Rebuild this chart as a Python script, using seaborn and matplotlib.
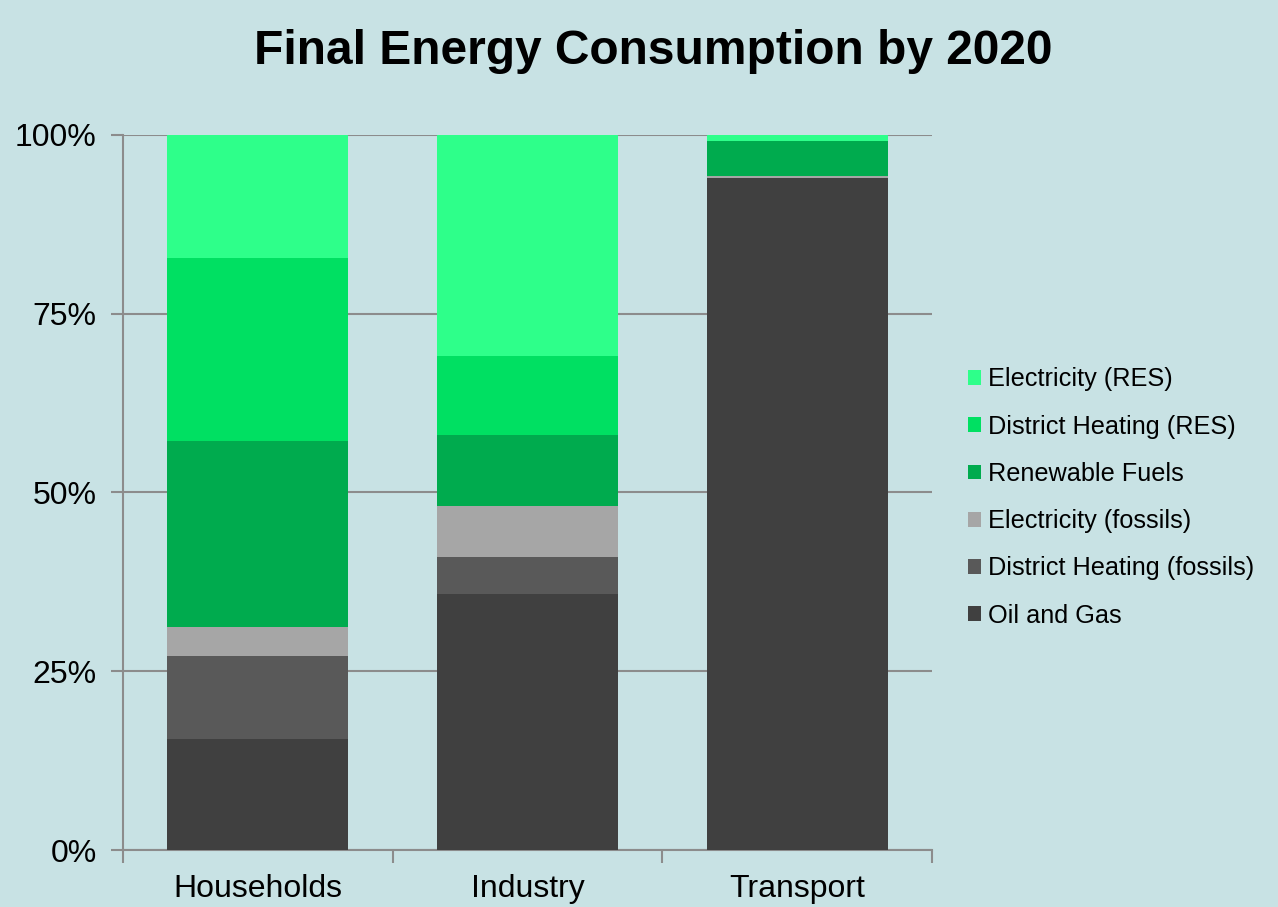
import numpy as np
import pandas as pd
import matplotlib
matplotlib.use('Agg')
import matplotlib.pyplot as plt
from matplotlib.patches import Patch
from matplotlib.ticker import PercentFormatter
import seaborn as sns

sectors = ['Households', 'Industry', 'Transport']
oil_gas = [15.5, 35.8, 94.0]
dh_fossils = [11.6, 5.2, 0.0]
el_fossils = [4.1, 7.1, 0.2]
renewable_fuels = [26.0, 9.9, 5.0]
dh_res = [25.6, 11.1, 0.0]
el_res = [17.2, 30.9, 0.8]

series = ['Oil and Gas', 'District Heating (fossils)', 'Electricity (fossils)',
          'Renewable Fuels', 'District Heating (RES)', 'Electricity (RES)']
colors = ['#404040', '#595959', '#a6a6a6', '#00ab4e', '#00e062', '#2eff8a']

df = pd.DataFrame({'sector': sectors, series[0]: oil_gas, series[1]: dh_fossils,
                   series[2]: el_fossils, series[3]: renewable_fuels,
                   series[4]: dh_res, series[5]: el_res})

bg = '#c8e2e4'
sns.set_style('white')
plt.rcParams['font.family'] = ['Liberation Sans', 'DejaVu Sans']
plt.rcParams['text.color'] = 'black'
plt.rcParams['xtick.color'] = 'black'
plt.rcParams['ytick.color'] = 'black'

fig = plt.figure(figsize=(12.78, 9.07), dpi=100, facecolor=bg)
ax = fig.add_axes([123 / 1278, 57 / 907, 809 / 1278, 715 / 907])
ax.set_facecolor(bg)

bottom = np.zeros(len(sectors))
for name, col in zip(series, colors):
    sns.barplot(data=df, x='sector', y=name, color=col, width=0.67, saturation=1,
                bottom=bottom, ax=ax, linewidth=0, zorder=3)
    bottom = bottom + df[name].values

ax.set_ylim(0, 100)
ax.set_xlim(-0.5, 2.5)
ax.set_yticks([0, 25, 50, 75, 100])
ax.yaxis.set_major_formatter(PercentFormatter(decimals=0))
ax.set_xlabel('')
ax.set_ylabel('')
ax.grid(axis='y', color='#8c8c8c', linewidth=1.5, zorder=0)
for s in ['top', 'right']:
    ax.spines[s].set_visible(False)
for s in ['left', 'bottom']:
    ax.spines[s].set_color('#8c8c8c')
    ax.spines[s].set_linewidth(1.5)
ax.tick_params(axis='y', left=True, length=9, width=1.5, color='#8c8c8c',
               labelcolor='black', labelsize=23, pad=10)
ax.set_xticks([0, 1, 2], sectors)
ax.tick_params(axis='x', bottom=True, length=0, labelsize=23, pad=17, labelcolor='black')
ax.set_xticks([-0.5, 0.5, 1.5, 2.5], minor=True)
ax.tick_params(axis='x', which='minor', bottom=True, length=9, width=1.5, color='#8c8c8c')

handles = [Patch(facecolor=c, edgecolor='none', label=n) for n, c in zip(series, colors)][::-1]
fig.legend(handles=handles, loc='center left', bbox_to_anchor=(948 / 1278, 1 - 497.5 / 907),
           frameon=False, fontsize=18.2, handlelength=0.52, handleheight=0.52,
           handletextpad=0.28, labelspacing=0.92, borderpad=0.3)

fig.text(653 / 1278, 1 - 52 / 907, 'Final Energy Consumption by 2020',
         ha='center', va='center', fontsize=34.5, fontweight='bold', color='black')

fig.savefig('out.png', dpi=100, facecolor=bg)
